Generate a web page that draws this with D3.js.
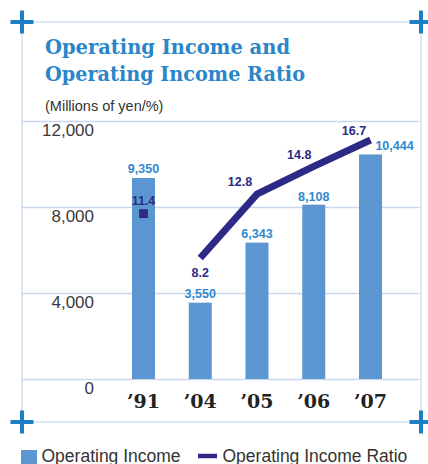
<!DOCTYPE html>
<html>
<head>
<meta charset="utf-8">
<script src="https://cdn.jsdelivr.net/npm/d3@7"></script>
<style>
  html, body { margin: 0; padding: 0; background: #fff; }
  svg { display: block; }
</style>
</head>
<body>
<svg id="chart" width="428" height="464"></svg>
<script>
// Fiscal years shown on the x axis
const years = ["\u201991", "\u201904", "\u201905", "\u201906", "\u201907"];
// Operating income, millions of yen
const operatingIncome = [9350, 3550, 6343, 8108, 10444];
// Operating income ratio, %
const incomeRatio = [11.4, 8.2, 12.8, 14.8, 16.7];
// Left axis ticks
const incomeTicks = [0, 4000, 8000, 12000];
const tickLabels = ["0", "4,000", "8,000", "12,000"];

const svg = d3.select("#chart");

const BLUE = "#2a86c8";
const BAR = "#5b96d0";
const NAVY = "#2c2a84";
const FRAME = "#d3dff0";

// Frame around the panel
const frame = { left: 22, top: 22, right: 421, bottom: 422 };
svg.append("rect")
  .attr("x", frame.left).attr("y", frame.top)
  .attr("width", frame.right - frame.left).attr("height", frame.bottom - frame.top)
  .attr("fill", "none").attr("stroke", FRAME).attr("stroke-width", 1.5);

// Corner registration crosses
[[frame.left, frame.top], [frame.right, frame.top], [frame.left, frame.bottom], [frame.right, frame.bottom]]
  .forEach(([cx, cy]) => {
    svg.append("rect").attr("x", cx - 11.5).attr("y", cy - 2).attr("width", 23).attr("height", 4).attr("fill", "#1f7fc4");
    svg.append("rect").attr("x", cx - 2).attr("y", cy - 11.5).attr("width", 4).attr("height", 23).attr("fill", "#1f7fc4");
  });

// Title
const title = svg.append("text")
  .attr("font-family", "'DejaVu Serif', serif")
  .attr("font-weight", "bold")
  .attr("font-size", 21)
  .attr("fill", BLUE);
title.append("tspan").attr("x", 45).attr("y", 54).attr("textLength", 245).attr("lengthAdjust", "spacingAndGlyphs").text("Operating Income and");
title.append("tspan").attr("x", 45).attr("y", 80.5).attr("textLength", 260).attr("lengthAdjust", "spacingAndGlyphs").text("Operating Income Ratio");

svg.append("text")
  .attr("x", 45).attr("y", 111)
  .attr("font-family", "'Liberation Sans', Arial, sans-serif")
  .attr("font-size", 14.5)
  .attr("fill", "#333")
  .text("(Millions of yen/%)");

// Scales
const x = d3.scaleBand()
  .domain(years)
  .range([115.1, 398.9])
  .paddingInner(0.595)
  .paddingOuter(0.2975);

const y = d3.scaleLinear().domain([0, 12000]).range([379, 121]);
const yRatio = d3.scaleLinear().domain([0, 20]).range([371.8, 94.2]);

// Gridlines and left tick labels
const yAxis = d3.axisLeft(y)
  .tickValues(incomeTicks)
  .tickFormat((d, i) => tickLabels[i])
  .tickSize(-(frame.right - frame.left - 1.5))
  .tickPadding(0);

const gAxis = svg.append("g")
  .attr("transform", `translate(${frame.left},0)`)
  .call(yAxis);
gAxis.select(".domain").remove();
gAxis.selectAll(".tick line").attr("stroke", "#c9d8ee").attr("stroke-width", 1.5);
gAxis.selectAll(".tick text")
  .attr("x", 72)
  .attr("dy", 14)
  .attr("text-anchor", "end")
  .attr("font-family", "'Liberation Sans', Arial, sans-serif")
  .attr("font-size", 17)
  .attr("fill", "#3a3a3a");

// Bars
const barData = years.map((yr, i) => ({ yr, v: operatingIncome[i] }));
svg.append("g").selectAll("rect")
  .data(barData)
  .join("rect")
  .attr("x", d => x(d.yr))
  .attr("y", d => y(d.v))
  .attr("width", x.bandwidth())
  .attr("height", d => y(0) - y(d.v))
  .attr("fill", BAR);

// Bar value labels (last one sits to the right of the line end)
const barLabelShift = [0, 0, 0, 0, 24];
const barLabelLift = [5, 5, 5, 4, 4];
svg.append("g").selectAll("text")
  .data(barData)
  .join("text")
  .attr("x", (d, i) => x(d.yr) + x.bandwidth() / 2 + barLabelShift[i])
  .attr("y", (d, i) => y(d.v) - barLabelLift[i])
  .attr("text-anchor", "middle")
  .attr("font-family", "'Liberation Sans', Arial, sans-serif")
  .attr("font-weight", "bold")
  .attr("font-size", 12.5)
  .attr("fill", "#3089cf")
  .text(d => d3.format(",")(d.v));

// Ratio: 1991 as a standalone marker, 2004 onward as a line
const ratioData = years.map((yr, i) => ({ yr, v: incomeRatio[i] }));
const cx = d => x(d.yr) + x.bandwidth() / 2;

const first = ratioData[0];
svg.append("rect")
  .attr("x", cx(first) - 4.4)
  .attr("y", yRatio(first.v) - 4.4)
  .attr("width", 8.8).attr("height", 8.8)
  .attr("fill", NAVY);

svg.append("path")
  .datum(ratioData.slice(1))
  .attr("d", d3.line().x(cx).y(d => yRatio(d.v)))
  .attr("fill", "none")
  .attr("stroke", NAVY)
  .attr("stroke-width", 7)
  .attr("stroke-linejoin", "miter")
  .attr("stroke-linecap", "butt");

// Ratio value labels
const ratioLabelDx = [0, 0, -17, -14.5, -16.5];
const ratioLabelDy = [-8.5, 19, -8, -7.5, -5];
svg.append("g").selectAll("text")
  .data(ratioData)
  .join("text")
  .attr("x", (d, i) => cx(d) + ratioLabelDx[i])
  .attr("y", (d, i) => yRatio(d.v) + ratioLabelDy[i])
  .attr("text-anchor", "middle")
  .attr("font-family", "'Liberation Sans', Arial, sans-serif")
  .attr("font-weight", "bold")
  .attr("font-size", 12.5)
  .attr("fill", NAVY)
  .text(d => d3.format(".1f")(d.v));

// Year labels
svg.append("g").selectAll("text")
  .data(years)
  .join("text")
  .attr("x", d => x(d) + x.bandwidth() / 2)
  .attr("y", 408)
  .attr("text-anchor", "middle")
  .attr("font-family", "'DejaVu Serif', serif")
  .attr("font-weight", "bold")
  .attr("font-size", 19)
  .attr("fill", "#222")
  .text(d => d);

// Legend
const legend = svg.append("g");
legend.append("rect").attr("x", 21).attr("y", 450).attr("width", 16).attr("height", 16).attr("fill", BAR);
legend.append("text")
  .attr("x", 41.5).attr("y", 461.5)
  .attr("font-family", "'Liberation Sans', Arial, sans-serif")
  .attr("font-size", 17.5).attr("fill", "#333")
  .text("Operating Income");
legend.append("line")
  .attr("x1", 198).attr("x2", 217).attr("y1", 456).attr("y2", 456)
  .attr("stroke", NAVY).attr("stroke-width", 4.5);
legend.append("text")
  .attr("x", 222.5).attr("y", 461.5)
  .attr("font-family", "'Liberation Sans', Arial, sans-serif")
  .attr("font-size", 17.5).attr("fill", "#333")
  .text("Operating Income Ratio");
</script>
</body>
</html>
